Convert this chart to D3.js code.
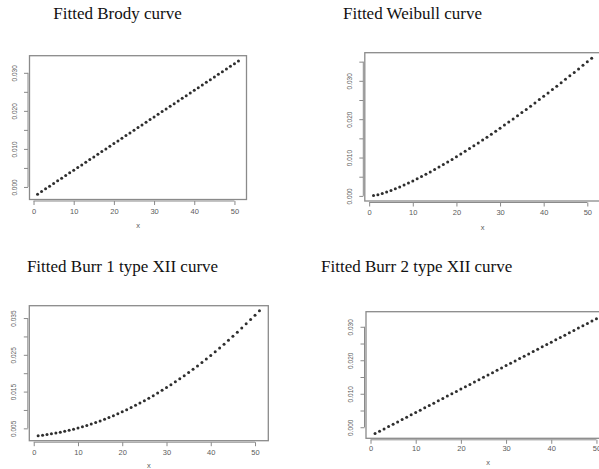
<!DOCTYPE html>
<html>
<head>
<meta charset="utf-8">
<script src="https://cdn.jsdelivr.net/npm/d3@7/dist/d3.min.js"></script>
<style>
  html, body { margin: 0; padding: 0; background: #fff; }
  svg { display: block; }
</style>
</head>
<body>
<svg id="chart" width="599" height="469"></svg>
<script>
// ---------------- DATA ----------------
const xValues = [1,2,3,4,5,6,7,8,9,10,11,12,13,14,15,16,17,18,19,20,21,22,23,24,25,
  26,27,28,29,30,31,32,33,34,35,36,37,38,39,40,41,42,43,44,45,46,47,48,49,50,51];

const brodyValues = [-0.0019,-0.0012,-0.0005,0.0002,0.0009,0.0016,0.0023,0.0030,0.0037,0.0044,
  0.0051,0.0058,0.0065,0.0072,0.0079,0.0086,0.0093,0.0100,0.0107,0.0114,
  0.0121,0.0128,0.0135,0.0142,0.0149,0.0156,0.0163,0.0170,0.0177,0.0184,
  0.0191,0.0198,0.0205,0.0212,0.0219,0.0226,0.0233,0.0240,0.0247,0.0254,
  0.0261,0.0268,0.0275,0.0282,0.0289,0.0296,0.0303,0.0310,0.0317,0.0324,0.0331];

const weibullValues = [0.00010,0.00031,0.00063,0.00100,0.00142,0.00186,0.00234,0.00284,0.00336,0.00390,
  0.00446,0.00504,0.00564,0.00625,0.00687,0.00751,0.00816,0.00883,0.00951,0.01020,
  0.01090,0.01161,0.01233,0.01306,0.01381,0.01456,0.01532,0.01609,0.01687,0.01766,
  0.01845,0.01926,0.02007,0.02089,0.02172,0.02255,0.02339,0.02425,0.02510,0.02597,
  0.02684,0.02771,0.02860,0.02949,0.03039,0.03129,0.03220,0.03311,0.03404,0.03497,0.03590];

const burr1Values = [0.00300,0.00315,0.00331,0.00350,0.00371,0.00395,0.00420,0.00448,0.00478,0.00510,
  0.00544,0.00580,0.00619,0.00660,0.00703,0.00748,0.00795,0.00845,0.00896,0.00950,
  0.01006,0.01064,0.01125,0.01187,0.01252,0.01319,0.01388,0.01459,0.01533,0.01608,
  0.01686,0.01766,0.01848,0.01933,0.02019,0.02108,0.02199,0.02292,0.02387,0.02484,
  0.02584,0.02686,0.02790,0.02896,0.03004,0.03115,0.03227,0.03342,0.03459,0.03579,0.03700];

const burr2Values = [-0.0019,-0.0012,-0.0005,0.0002,0.0009,0.0016,0.0023,0.0030,0.0037,0.0044,
  0.0051,0.0058,0.0065,0.0072,0.0079,0.0086,0.0093,0.0100,0.0107,0.0114,
  0.0121,0.0128,0.0135,0.0142,0.0149,0.0156,0.0163,0.0170,0.0177,0.0184,
  0.0191,0.0198,0.0205,0.0212,0.0219,0.0226,0.0233,0.0240,0.0247,0.0254,
  0.0261,0.0268,0.0275,0.0282,0.0289,0.0296,0.0303,0.0310,0.0317,0.0324,0.0331];

const titles = ["Fitted Brody curve", "Fitted Weibull curve",
                "Fitted Burr 1 type XII curve", "Fitted Burr 2 type XII curve"];

const xTickValues = [0, 10, 20, 30, 40, 50];
const yTicksA = [0, 0.005, 0.010, 0.015, 0.020, 0.025, 0.030];
const yLabelsA = [0, 0.010, 0.020, 0.030];
const yTicksB = [0, 0.005, 0.010, 0.015, 0.020, 0.025, 0.030, 0.035];
const yTicksC = [0.005, 0.010, 0.015, 0.020, 0.025, 0.030, 0.035];
const yLabelsC = [0.005, 0.015, 0.025, 0.035];
const xAxisTitle = "x";

// ---------------- LAYOUT ----------------
const panels = [
  { title: titles[0], values: brodyValues, box: {l: 29.5, r: 246.5, t: 55.7, b: 199.5},
    yTicks: yTicksA, yLabels: yLabelsA, titleX: 117.5, titleY: 19,
    yLabelX: 15, xLabelY: 213.5, xTitleY: 228 },
  { title: titles[1], values: weibullValues, box: {l: 364.8, r: 600.4, t: 52.7, b: 201},
    yTicks: yTicksB, yLabels: yLabelsA, titleX: 412.5, titleY: 19,
    yLabelX: 350, xLabelY: 215, xTitleY: 230 },
  { title: titles[2], values: burr1Values, box: {l: 29.3, r: 268.3, t: 305.7, b: 440.7},
    yTicks: yTicksC, yLabels: yLabelsC, titleX: 122.5, titleY: 272,
    yLabelX: 14, xLabelY: 454.5, xTitleY: 467.5 },
  { title: titles[3], values: burr2Values, box: {l: 366, r: 610, t: 311.7, b: 438.3},
    yTicks: yTicksA, yLabels: yLabelsA, titleX: 416.7, titleY: 272,
    yLabelX: 350.5, xLabelY: 451, xTitleY: 464.5 }
];

const svg = d3.select("#chart");
const axisColor = "#8a8a8a";
const labelColor = "#5a5a5a";
const pointColor = "#2e2e2e";

function padded(ext) {
  const r = ext[1] - ext[0];
  return [ext[0] - 0.04 * r, ext[1] + 0.04 * r];
}

panels.forEach(p => {
  const g = svg.append("g");
  const b = p.box;
  const x = d3.scaleLinear().domain(padded(d3.extent(xValues))).range([b.l, b.r]);
  const y = d3.scaleLinear().domain(padded(d3.extent(p.values))).range([b.b, b.t]);

  // title
  g.append("text")
    .attr("x", p.titleX).attr("y", p.titleY)
    .attr("text-anchor", "middle")
    .attr("font-family", "'Liberation Serif', 'Times New Roman', serif")
    .attr("font-size", 17)
    .attr("fill", "#111")
    .text(p.title);

  // box
  g.append("rect")
    .attr("x", b.l).attr("y", b.t)
    .attr("width", b.r - b.l).attr("height", b.b - b.t)
    .attr("fill", "none").attr("stroke", axisColor).attr("stroke-width", 1.3);

  // x axis
  const xAxisY = b.b + 1.5;
  const xa = g.append("g").attr("transform", `translate(0,${xAxisY})`)
    .call(d3.axisBottom(x).tickValues(xTickValues).tickSize(4).tickFormat(d3.format("d")));
  xa.select(".domain").remove();
  xa.append("line")
    .attr("x1", x(xTickValues[0])).attr("x2", x(xTickValues[xTickValues.length - 1]))
    .attr("stroke", axisColor);
  xa.selectAll(".tick line").attr("stroke", axisColor);
  xa.selectAll(".tick text")
    .attr("y", null).attr("dy", null)
    .attr("transform", `translate(0,${p.xLabelY - xAxisY})`)
    .attr("fill", labelColor)
    .attr("font-family", "'Liberation Sans', Arial, sans-serif")
    .attr("font-size", 7.5);

  // y axis
  const yAxisX = b.l - 1.5;
  const labelSet = new Set(p.yLabels.map(v => v.toFixed(3)));
  const ya = g.append("g").attr("transform", `translate(${yAxisX},0)`)
    .call(d3.axisLeft(y).tickValues(p.yTicks).tickSize(4)
      .tickFormat(d => labelSet.has(d.toFixed(3)) ? d3.format(".3f")(d) : ""));
  ya.select(".domain").remove();
  ya.append("line")
    .attr("y1", y(p.yTicks[0])).attr("y2", y(p.yTicks[p.yTicks.length - 1]))
    .attr("stroke", axisColor);
  ya.selectAll(".tick line").attr("stroke", axisColor);
  ya.selectAll(".tick text")
    .attr("x", null).attr("dy", null)
    .attr("text-anchor", "middle")
    .attr("transform", `translate(${p.yLabelX - yAxisX},0) rotate(-90) translate(0,2.3)`)
    .attr("fill", labelColor)
    .attr("font-family", "'Liberation Sans', Arial, sans-serif")
    .attr("font-size", 6.5);

  // x axis title
  g.append("text")
    .attr("x", (b.l + b.r) / 2).attr("y", p.xTitleY)
    .attr("text-anchor", "middle")
    .attr("font-family", "'Liberation Sans', Arial, sans-serif")
    .attr("font-size", 7.5)
    .attr("fill", labelColor)
    .text(xAxisTitle);

  // points
  g.append("g").selectAll("circle")
    .data(xValues.map((xv, i) => [xv, p.values[i]]))
    .join("circle")
    .attr("cx", d => x(d[0])).attr("cy", d => y(d[1]))
    .attr("r", 1.5)
    .attr("fill", pointColor);
});
</script>
</body>
</html>
